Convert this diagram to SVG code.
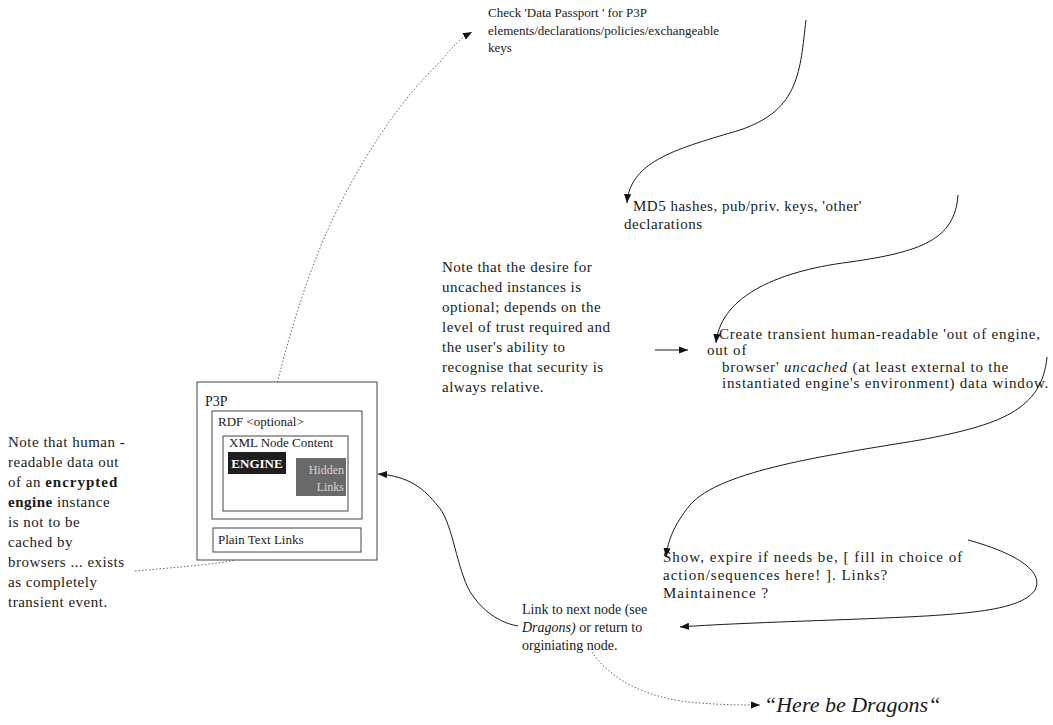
<svg xmlns="http://www.w3.org/2000/svg" width="1053" height="725" viewBox="0 0 1053 725">
<style>
.t{font-family:"Liberation Serif","Times New Roman",serif;fill:#1a1a1a}
.s13{font-size:13px}
.s14{font-size:14px}
.s15{font-size:15px;letter-spacing:0.5px}
.cr{font-size:15px;letter-spacing:0.8px}
.sh{font-size:15px;letter-spacing:1px}
.c{fill:none;stroke:#1a1a1a;stroke-width:1}
.d{fill:none;stroke:#666;stroke-width:1;stroke-dasharray:1.5 2}
.bx{fill:#fff;stroke:#444;stroke-width:1}
</style>
<defs>
<marker id="ah" viewBox="0 0 10 8" refX="10" refY="4" markerWidth="9" markerHeight="7.2" markerUnits="userSpaceOnUse" orient="auto">
<path d="M0,0 L10,4 L0,8 z" fill="#111"/>
</marker>
</defs>
<rect width="1053" height="725" fill="#fff"/>

<g id="connectors">
<path class="d" d="M 135 571 C 170 568, 205 565, 225 562 C 250 558, 272 545, 277 525 C 281 505, 262 490, 258 478 C 255 460, 262 440, 268 420 C 280 370, 300 290, 330 225 C 360 160, 400 100, 440 62 C 450 50, 458 40, 472 32" marker-end="url(#ah)"/>
<path class="c" d="M 806 20 C 800 70, 800 110, 740 130 C 680 148, 630 160, 627 203" marker-end="url(#ah)"/>
<path class="c" d="M 958 195 C 955 240, 920 252, 850 262 C 770 272, 720 300, 716 343" marker-end="url(#ah)"/>
<path class="c" d="M 655 350 L 688 350" marker-end="url(#ah)"/>
<path class="c" d="M 1047 357 C 1042 410, 1000 425, 920 440 C 830 455, 720 470, 690 505 C 674 525, 668 540, 666 557" marker-end="url(#ah)"/>
<path class="c" d="M 968 540 C 1012 552, 1045 570, 1035 590 C 1020 612, 960 615, 860 619 C 780 622, 720 624, 680 627" marker-end="url(#ah)"/>
<path class="c" d="M 518 626 C 495 622, 478 606, 468 588 C 455 560, 452 520, 437 505 C 425 490, 410 476, 378 474" marker-end="url(#ah)"/>
<path class="d" d="M 592 652 C 610 680, 650 700, 700 703 C 725 705, 740 705, 760 705" marker-end="url(#ah)"/>
</g>

<g id="node-p3p">
<rect class="bx" x="197" y="382" width="180" height="178" stroke-width="1.3"/>
<text class="t s14" x="205" y="406">P3P</text>
<rect class="bx" x="212" y="411" width="150" height="108"/>
<text class="t s13" x="218" y="426">RDF &lt;optional&gt;</text>
<rect class="bx" x="223" y="436" width="125" height="75"/>
<text class="t s13" x="229" y="447">XML Node Content</text>
<rect x="228" y="452" width="58" height="22" fill="#1e1e1e"/>
<text class="t" x="257" y="468" font-size="13" font-weight="bold" text-anchor="middle" style="fill:#fff">ENGINE</text>
<rect x="296" y="458" width="50" height="38" fill="#6a6a6a"/>
<text class="t" x="344" y="474" font-size="12" text-anchor="end" style="fill:#d4d4d4">Hidden</text>
<text class="t" x="344" y="491" font-size="12" text-anchor="end" style="fill:#d4d4d4">Links</text>
<rect class="bx" x="213" y="528" width="148" height="24"/>
<text class="t s13" x="218" y="544">Plain Text Links</text>
</g>

<g id="note-left">
<text class="t s15" x="8" y="447">Note that human -</text>
<text class="t s15" x="8" y="467">readable data out</text>
<text class="t s15" x="8" y="487">of an <tspan font-weight="bold" letter-spacing="1">encrypted</tspan></text>
<text class="t s15" x="8" y="507"><tspan font-weight="bold">engine</tspan> instance</text>
<text class="t s15" x="8" y="527">is not to be</text>
<text class="t s15" x="8" y="547">cached by</text>
<text class="t s15" x="8" y="567">browsers ... exists</text>
<text class="t s15" x="8" y="587">as completely</text>
<text class="t s15" x="8" y="607">transient event.</text>
</g>

<g id="node-check">
<text class="t s13" x="488" y="17">Check 'Data Passport ' for P3P</text>
<text class="t s13" x="488" y="35">elements/declarations/policies/exchangeable</text>
<text class="t s13" x="488" y="52">keys</text>
</g>

<g id="node-md5">
<text class="t s15" x="633" y="211">MD5 hashes, pub/priv. keys, 'other'</text>
<text class="t s15" x="624" y="229">declarations</text>
</g>

<g id="note-desire">
<text class="t s15" x="442" y="272">Note that the desire for</text>
<text class="t s15" x="442" y="292">uncached instances is</text>
<text class="t s15" x="442" y="312">optional; depends on the</text>
<text class="t s15" x="442" y="332">level of trust required and</text>
<text class="t s15" x="442" y="352">the user's ability to</text>
<text class="t s15" x="442" y="372">recognise that security is</text>
<text class="t s15" x="442" y="392">always relative.</text>
</g>

<g id="node-create">
<text class="t cr" x="719" y="339">Create transient human-readable 'out of engine,</text>
<text class="t cr" x="707" y="355">out of</text>
<text class="t cr" x="722" y="372">browser' <tspan font-style="italic">uncached</tspan> (at least external to the</text>
<text class="t cr" x="722" y="388">instantiated engine's environment) data window.</text>
</g>

<g id="node-show">
<text class="t sh" x="663" y="562">Show, expire if needs be, [ fill in choice of</text>
<text class="t sh" x="663" y="580">action/sequences here! ]. Links?</text>
<text class="t sh" x="663" y="598">Maintainence ?</text>
</g>

<g id="node-link">
<text class="t s14" x="522" y="614">Link to next node (see</text>
<text class="t s14" x="522" y="632"><tspan font-style="italic">Dragons)</tspan> or return to</text>
<text class="t s14" x="522" y="650">orginiating node.</text>
</g>

<g id="node-dragons">
<text class="t" x="764" y="712" font-size="22" font-style="italic">“Here be Dragons“</text>
</g>
</svg>
